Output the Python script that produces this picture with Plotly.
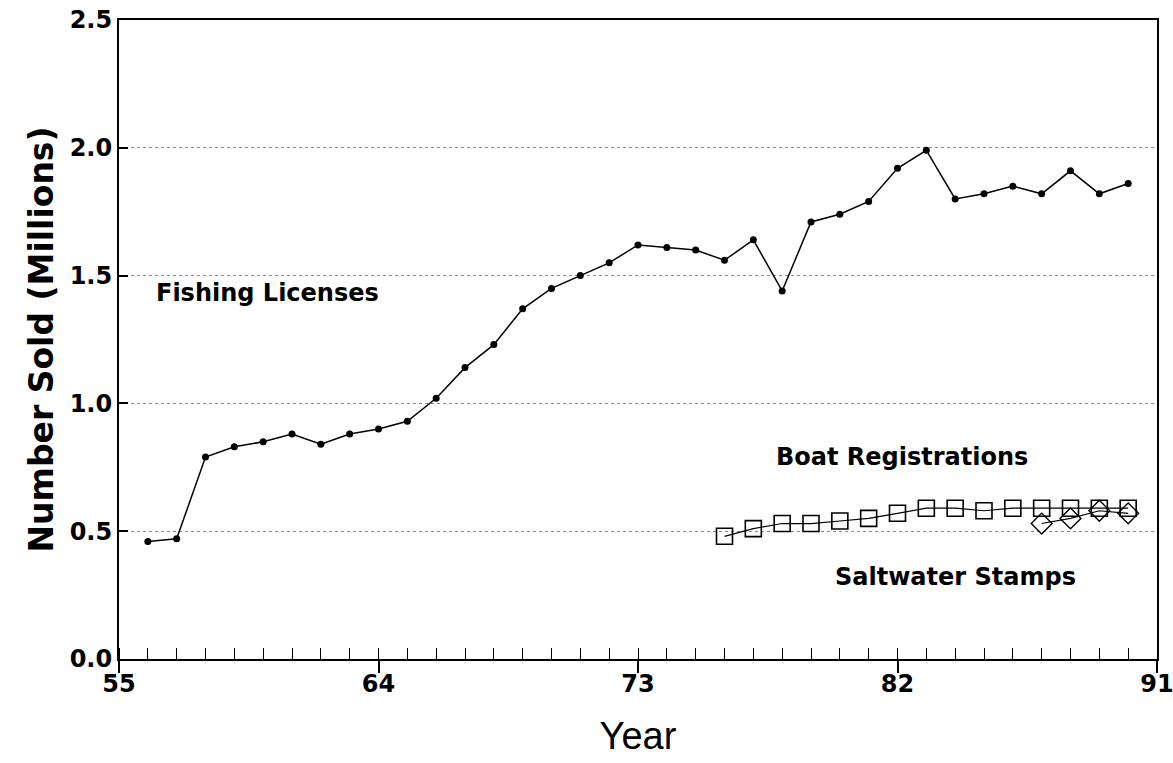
import plotly.graph_objects as go

# data (values in millions)
fish_years = list(range(56, 91))
fish_sold = [0.46, 0.47, 0.79, 0.83, 0.85, 0.88, 0.84, 0.88, 0.90, 0.93,
             1.02, 1.14, 1.23, 1.37, 1.45, 1.50, 1.55, 1.62, 1.61, 1.60,
             1.56, 1.64, 1.44, 1.71, 1.74, 1.79, 1.92, 1.99, 1.80, 1.82,
             1.85, 1.82, 1.91, 1.82, 1.86]

boat_years = list(range(76, 91))
boat_sold = [0.48, 0.51, 0.53, 0.53, 0.54, 0.55, 0.57, 0.59, 0.59, 0.58,
             0.59, 0.59, 0.59, 0.59, 0.59]

salt_years = [87, 88, 89, 90]
salt_sold = [0.53, 0.55, 0.58, 0.57]

x_ticks = [55, 64, 73, 82, 91]
y_ticks = [0.0, 0.5, 1.0, 1.5, 2.0, 2.5]

bold = dict(family="DejaVu Sans, sans-serif", color="black", weight="bold")

fig = go.Figure()
fig.add_trace(go.Scatter(
    x=fish_years, y=fish_sold, mode="lines+markers",
    line=dict(color="black", width=1.5),
    marker=dict(symbol="circle", size=7, color="black"),
    name="Fishing Licenses"))
fig.add_trace(go.Scatter(
    x=boat_years, y=boat_sold, mode="lines+markers",
    line=dict(color="black", width=1.2),
    marker=dict(symbol="square-open", size=16, color="black", line=dict(width=1.6)),
    name="Boat Registrations"))
fig.add_trace(go.Scatter(
    x=salt_years, y=salt_sold, mode="lines+markers",
    line=dict(color="black", width=1.2),
    marker=dict(symbol="diamond-open", size=16, color="black", line=dict(width=1.4)),
    name="Saltwater Stamps"))

# series labels sit on the plot instead of a legend
labels = [("Fishing Licenses", 60.16, 1.43),
          ("Boat Registrations", 82.16, 0.79),
          ("Saltwater Stamps", 84.0, 0.32)]
for txt, lx, ly in labels:
    fig.add_annotation(x=lx, y=ly, text=txt, showarrow=False,
                       font=dict(size=24, **bold))

fig.update_xaxes(
    range=[55, 91], tickvals=x_ticks, ticktext=[str(v) for v in x_ticks],
    ticks="outside", ticklen=12, tickwidth=1.5, tickcolor="black",
    ticklabelstandoff=-10, ticklabeloverflow="allow",
    minor=dict(ticks="inside", dtick=1, tick0=55, ticklen=11, tickwidth=1.3, tickcolor="black"),
    showline=True, linecolor="black", linewidth=2, mirror=True,
    showgrid=False, zeroline=False, automargin=False,
    tickfont=dict(size=24, **bold),
    title=dict(text="Year", font=dict(family="Liberation Sans, Arial, sans-serif", size=38, color="black"),
               standoff=26))
fig.update_yaxes(
    range=[0, 2.5], tickvals=y_ticks, ticktext=["%.1f" % v for v in y_ticks],
    ticks="inside", ticklen=9, tickwidth=1.5, tickcolor="black",
    ticklabeloverflow="allow",
    showline=True, linecolor="black", linewidth=2, mirror=True,
    showgrid=True, gridcolor="#888888", gridwidth=1, griddash="dot",
    zeroline=False, automargin=False,
    tickfont=dict(size=24, **bold),
    title=dict(text="Number Sold (Millions)", font=dict(size=33, **bold),
               standoff=6))

fig.update_layout(
    width=1173, height=763,
    margin=dict(l=119, r=16, t=20, b=104),
    plot_bgcolor="white", paper_bgcolor="white",
    showlegend=False)

# drop the default page margin so the figure fills the window
fig.write_html("out.html", config={"displayModeBar": False},
               post_script="document.body.style.margin='0';")
